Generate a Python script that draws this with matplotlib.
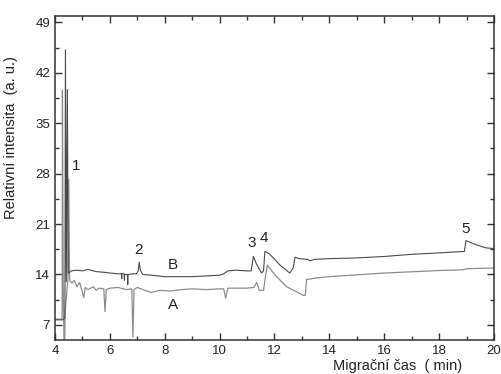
import matplotlib
matplotlib.use("Agg")
import matplotlib.pyplot as plt
from matplotlib.ticker import MultipleLocator

plt.rcParams['font.family'] = ['Liberation Sans', 'DejaVu Sans']

# trace B (upper, darker)
b_t = [4.0, 4.30, 4.36, 4.38, 4.41, 4.45, 4.48, 4.6, 4.8, 5.0, 5.2, 5.5, 5.8, 6.0,
       6.3, 6.42, 6.43, 6.44, 6.52, 6.53, 6.54, 6.64, 6.65, 6.66, 6.85, 6.97,
       7.03, 7.07, 7.11, 7.2, 7.5, 8.0, 8.55, 9.0, 9.5, 10.0, 10.15, 10.3,
       10.6, 11.0, 11.15, 11.23, 11.35, 11.53, 11.6, 11.65, 11.8, 11.96, 12.2,
       12.4, 12.56, 12.68, 12.75, 12.9, 13.2, 13.3, 13.45, 14.0, 15.0, 16.0,
       17.0, 18.0, 18.92, 18.98, 19.3, 19.7, 20.0]
b_y = [7.7, 7.7, 8.0, 45.2, 13.0, 39.7, 14.2, 14.5, 14.6, 14.5, 14.7, 14.4, 14.3, 14.2,
       14.1, 14.1, 13.4, 14.1, 14.1, 13.2, 14.0, 14.0, 12.6, 14.0, 14.1, 14.1,
       14.5, 15.7, 14.6, 14.0, 13.9, 13.7, 13.7, 13.7, 13.8, 13.9, 14.1, 14.5,
       14.6, 14.5, 14.5, 16.5, 15.4, 14.2, 14.5, 17.2, 16.9, 16.3, 15.3,
       14.7, 14.2, 14.9, 16.4, 16.2, 16.1, 15.9, 16.1, 16.2, 16.3, 16.5,
       16.8, 17.0, 17.2, 18.7, 18.2, 17.7, 17.6]

# trace A (lower, lighter)
a_t = [4.0, 4.25, 4.26, 4.27, 4.30, 4.33, 4.35, 4.37, 4.47, 4.50, 4.53, 4.56,
       4.62, 4.7, 4.8, 4.9, 5.0, 5.05, 5.1, 5.2, 5.4, 5.5, 5.6, 5.78, 5.82,
       5.87, 6.0, 6.3, 6.6, 6.8, 6.84, 6.88, 7.0, 7.2, 7.5, 7.8, 8.2, 8.6,
       9.0, 9.5, 10.0, 10.15, 10.22, 10.3, 10.5, 11.0, 11.25, 11.35, 11.45,
       11.6, 11.68, 11.74, 11.9, 12.08, 12.44, 12.8, 13.05, 13.12, 13.17,
       13.5, 14.0, 16.0, 18.0, 18.87, 19.0, 20.0]
a_y = [7.8, 7.8, 8.0, 39.6, 12.0, 4.0, 4.0, 9.0, 13.3, 27.2, 13.3, 13.0,
       12.8, 13.2, 12.3, 12.9, 11.5, 10.8, 12.2, 11.9, 12.3, 11.8, 12.1, 12.0, 8.85,
       11.9, 12.1, 12.2, 11.9, 12.0, 5.3, 11.9, 12.2, 11.9, 11.5, 11.8, 11.7, 11.9,
       12.0, 11.9, 12.0, 12.0, 10.7, 12.1, 12.1, 12.1, 12.2, 12.9, 11.8,
       11.8, 14.0, 15.3, 14.5, 13.7, 12.3, 11.6, 11.1, 11.1, 13.3,
       13.5, 13.7, 14.2, 14.55, 14.65, 14.8, 14.9]

# peak numbers and trace names with their label positions
peak_labels = ["1", "2", "3", "4", "5"]
peak_x = [4.77, 7.03, 11.18, 11.63, 18.98]
peak_y = [29.1, 17.4, 18.4, 19.1, 20.3]
trace_labels = ["B", "A"]
trace_x = [8.3, 8.3]
trace_y = [15.3, 9.8]

fig = plt.figure(figsize=(5.02, 3.74), dpi=100)
ax = fig.add_axes([0.1096, 0.0909, 0.8744, 0.8663])

ax.plot(a_t, a_y, color="#8c8c8c", lw=0.9)
ax.plot(b_t, b_y, color="#4a4a4a", lw=0.8)

for s, x, y in zip(peak_labels, peak_x, peak_y):
    ax.text(x, y, s, fontsize=11, ha="center", va="center", color="#222222")
for s, x, y in zip(trace_labels, trace_x, trace_y):
    ax.text(x, y, s, fontsize=11, ha="center", va="center", color="#222222")

ax.set_xlim(4, 20)
ax.set_ylim(4.9, 49.9)
ax.xaxis.set_major_locator(MultipleLocator(2))
ax.xaxis.set_minor_locator(MultipleLocator(1))
ax.set_yticks([7, 14, 21, 28, 35, 42, 49])
ax.yaxis.set_minor_locator(MultipleLocator(3.5))
ax.tick_params(which="both", direction="in", top=True, right=True, labelsize=9.5,
               labelcolor="#222222", color="#333333")
ax.tick_params(which="major", length=5, width=1)
ax.tick_params(which="minor", length=3, width=1)
for sp in ax.spines.values():
    sp.set_linewidth(1.1)
    sp.set_color("#333333")

ax.set_ylabel("Relativní intensita  (a. u.)", fontsize=10.5, color="#222222")
ax.yaxis.set_label_coords(-0.084, 0.625)
ax.set_xlabel("Migrační čas  ( min)", fontsize=10.5, color="#222222")
ax.xaxis.set_label_coords(0.78, -0.06)

fig.savefig("out.png", dpi=100)
